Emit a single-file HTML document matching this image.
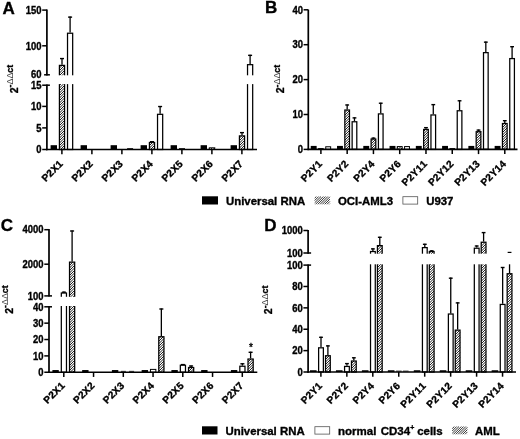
<!DOCTYPE html>
<html><head><meta charset="utf-8"><title>Figure</title>
<style>
html,body{margin:0;padding:0;background:#fff;}
svg{display:block;font-family:"Liberation Sans", Arial, sans-serif;fill:#000;}
text{stroke:#000;stroke-width:0.35px;font-kerning:none;}
</style></head>
<body>
<svg width="520" height="439" viewBox="0 0 520 439">
<defs>
<filter id="bl" x="-20%" y="-5%" width="140%" height="110%"><feGaussianBlur stdDeviation="0.25"/></filter>
</defs>
<rect width="520" height="439" fill="#fff"/>
<text x="2.60" y="13.90" font-size="17" text-anchor="start" font-weight="bold" >A</text>
<text transform="translate(17.70,93.30) rotate(-90)" font-weight="bold"><tspan font-size="10.5">2</tspan><tspan font-size="8.9" dy="-4.4">-</tspan><tspan font-size="8.9" font-weight="normal" stroke="none" fill="#444">ΔΔ</tspan><tspan font-size="8.9">ct</tspan></text>
<rect x="50.60" y="145.19" width="6.40" height="4.31" fill="#000"/>
<line x1="62.00" y1="64.76" x2="62.00" y2="57.97" stroke="#000" stroke-width="1.3"/>
<line x1="60.00" y1="58.57" x2="64.00" y2="58.57" stroke="#000" stroke-width="1.4"/>
<rect x="59.42" y="65.38" width="5.15" height="84.12" fill="#fff"/>
<path d="M59.42 65.58L59.62 65.38M59.42 68.08L62.12 65.38M59.42 70.58L64.58 65.42M59.42 73.08L64.58 67.92M59.42 75.58L64.58 70.42M59.42 78.08L64.58 72.92M59.42 80.58L64.58 75.42M59.42 83.08L64.58 77.92M59.42 85.58L64.58 80.42M59.42 88.08L64.58 82.92M59.42 90.58L64.58 85.42M59.42 93.08L64.58 87.92M59.42 95.58L64.58 90.42M59.42 98.08L64.58 92.92M59.42 100.58L64.58 95.42M59.42 103.08L64.58 97.92M59.42 105.58L64.58 100.42M59.42 108.08L64.58 102.92M59.42 110.58L64.58 105.42M59.42 113.08L64.58 107.92M59.42 115.58L64.58 110.42M59.42 118.08L64.58 112.92M59.42 120.58L64.58 115.42M59.42 123.08L64.58 117.92M59.42 125.58L64.58 120.42M59.42 128.07L64.58 122.92M59.42 130.57L64.58 125.42M59.42 133.07L64.58 127.92M59.42 135.57L64.58 130.43M59.42 138.07L64.58 132.93M59.42 140.57L64.58 135.43M59.42 143.07L64.58 137.93M59.42 145.57L64.58 140.43M59.42 148.07L64.58 142.93M60.50 149.50L64.58 145.43M63.00 149.50L64.58 147.93" stroke="#000" stroke-width="0.9" fill="none" filter="url(#bl)"/>
<rect x="59.42" y="65.38" width="5.15" height="84.12" fill="none" stroke="#000" stroke-width="1.25"/>
<line x1="70.10" y1="32.60" x2="70.10" y2="16.53" stroke="#000" stroke-width="1.3"/>
<line x1="68.10" y1="17.13" x2="72.10" y2="17.13" stroke="#000" stroke-width="1.4"/>
<rect x="67.52" y="33.23" width="5.15" height="116.27" fill="#fff"/>
<rect x="67.52" y="33.23" width="5.15" height="116.27" fill="none" stroke="#000" stroke-width="1.25"/>
<rect x="80.60" y="145.19" width="6.40" height="4.31" fill="#000"/>
<rect x="110.60" y="145.19" width="6.40" height="4.31" fill="#000"/>
<line x1="127.10" y1="148.60" x2="133.10" y2="148.60" stroke="#000" stroke-width="0.9"/>
<rect x="140.60" y="145.19" width="6.40" height="4.31" fill="#000"/>
<line x1="152.00" y1="141.82" x2="152.00" y2="141.09" stroke="#000" stroke-width="1.3"/>
<line x1="150.00" y1="141.69" x2="154.00" y2="141.69" stroke="#000" stroke-width="1.4"/>
<rect x="149.43" y="142.45" width="5.15" height="7.05" fill="#fff"/>
<path d="M149.43 143.07L150.05 142.45M149.43 145.57L152.55 142.45M149.43 148.07L154.58 142.92M150.50 149.50L154.58 145.42M153.00 149.50L154.58 147.92" stroke="#000" stroke-width="0.9" fill="none" filter="url(#bl)"/>
<rect x="149.43" y="142.45" width="5.15" height="7.05" fill="none" stroke="#000" stroke-width="1.25"/>
<line x1="160.10" y1="113.70" x2="160.10" y2="105.94" stroke="#000" stroke-width="1.3"/>
<line x1="158.10" y1="106.54" x2="162.10" y2="106.54" stroke="#000" stroke-width="1.4"/>
<rect x="157.53" y="114.32" width="5.15" height="35.18" fill="#fff"/>
<rect x="157.53" y="114.32" width="5.15" height="35.18" fill="none" stroke="#000" stroke-width="1.25"/>
<rect x="170.60" y="145.19" width="6.40" height="4.31" fill="#000"/>
<line x1="179.00" y1="148.60" x2="185.00" y2="148.60" stroke="#000" stroke-width="0.9"/>
<rect x="200.60" y="145.19" width="6.40" height="4.31" fill="#000"/>
<rect x="209.30" y="147.84" width="5.40" height="1.66" fill="#fff"/>
<path d="M209.30 148.20L209.66 147.84M210.50 149.50L212.16 147.84M213.00 149.50L214.66 147.84" stroke="#000" stroke-width="0.9" fill="none" filter="url(#bl)"/>
<rect x="209.30" y="147.84" width="5.40" height="1.66" fill="none" stroke="#000" stroke-width="1.0"/>
<rect x="230.60" y="145.19" width="6.40" height="4.31" fill="#000"/>
<line x1="242.00" y1="135.27" x2="242.00" y2="132.03" stroke="#000" stroke-width="1.3"/>
<line x1="240.00" y1="132.63" x2="244.00" y2="132.63" stroke="#000" stroke-width="1.4"/>
<rect x="239.43" y="135.89" width="5.15" height="13.61" fill="#fff"/>
<path d="M239.43 138.07L241.61 135.89M239.43 140.57L244.11 135.89M239.43 143.07L244.58 137.92M239.43 145.57L244.58 140.42M239.43 148.07L244.58 142.92M240.50 149.50L244.58 145.42M243.00 149.50L244.58 147.92" stroke="#000" stroke-width="0.9" fill="none" filter="url(#bl)"/>
<rect x="239.43" y="135.89" width="5.15" height="13.61" fill="none" stroke="#000" stroke-width="1.25"/>
<line x1="250.10" y1="64.04" x2="250.10" y2="54.75" stroke="#000" stroke-width="1.3"/>
<line x1="248.10" y1="55.35" x2="252.10" y2="55.35" stroke="#000" stroke-width="1.4"/>
<rect x="247.53" y="64.67" width="5.15" height="84.83" fill="#fff"/>
<rect x="247.53" y="64.67" width="5.15" height="84.83" fill="none" stroke="#000" stroke-width="1.25"/>
<rect x="50.5" y="75.3" width="210" height="8.8" fill="#fff"/>
<line x1="46.90" y1="9.40" x2="46.90" y2="75.50" stroke="#000" stroke-width="1.7"/>
<line x1="46.90" y1="84.50" x2="46.90" y2="150.25" stroke="#000" stroke-width="1.7"/>
<line x1="46.15" y1="149.50" x2="257.00" y2="149.50" stroke="#000" stroke-width="1.7"/>
<line x1="42.20" y1="10.10" x2="46.90" y2="10.10" stroke="#000" stroke-width="1.5"/>
<text transform="translate(41.50,13.80) scale(0.92,1)" font-size="10.3" text-anchor="end" font-weight="bold" stroke-width="0.2">150</text>
<line x1="42.20" y1="45.80" x2="46.90" y2="45.80" stroke="#000" stroke-width="1.5"/>
<text transform="translate(41.50,49.50) scale(0.92,1)" font-size="10.3" text-anchor="end" font-weight="bold" stroke-width="0.2">100</text>
<line x1="44.10" y1="74.80" x2="49.90" y2="74.80" stroke="#000" stroke-width="1.5"/>
<text transform="translate(41.50,78.00) scale(0.92,1)" font-size="10.3" text-anchor="end" font-weight="bold" stroke-width="0.2">60</text>
<line x1="42.20" y1="85.20" x2="49.90" y2="85.20" stroke="#000" stroke-width="1.5"/>
<text transform="translate(41.50,88.90) scale(0.92,1)" font-size="10.3" text-anchor="end" font-weight="bold" stroke-width="0.2">15</text>
<line x1="42.20" y1="106.40" x2="46.90" y2="106.40" stroke="#000" stroke-width="1.5"/>
<text transform="translate(41.50,110.10) scale(0.92,1)" font-size="10.3" text-anchor="end" font-weight="bold" stroke-width="0.2">10</text>
<line x1="42.20" y1="127.90" x2="46.90" y2="127.90" stroke="#000" stroke-width="1.5"/>
<text transform="translate(41.50,131.60) scale(0.92,1)" font-size="10.3" text-anchor="end" font-weight="bold" stroke-width="0.2">5</text>
<line x1="42.20" y1="149.50" x2="46.90" y2="149.50" stroke="#000" stroke-width="1.5"/>
<text transform="translate(41.50,153.20) scale(0.92,1)" font-size="10.3" text-anchor="end" font-weight="bold" stroke-width="0.2">0</text>
<line x1="61.90" y1="149.50" x2="61.90" y2="154.20" stroke="#000" stroke-width="1.5"/>
<text transform="translate(63.70,164.30) rotate(-45)" font-size="10" text-anchor="end" font-weight="bold" letter-spacing="0.25" stroke-width="0.2">P2X1</text>
<line x1="91.90" y1="149.50" x2="91.90" y2="154.20" stroke="#000" stroke-width="1.5"/>
<text transform="translate(93.70,164.30) rotate(-45)" font-size="10" text-anchor="end" font-weight="bold" letter-spacing="0.25" stroke-width="0.2">P2X2</text>
<line x1="121.90" y1="149.50" x2="121.90" y2="154.20" stroke="#000" stroke-width="1.5"/>
<text transform="translate(123.70,164.30) rotate(-45)" font-size="10" text-anchor="end" font-weight="bold" letter-spacing="0.25" stroke-width="0.2">P2X3</text>
<line x1="151.90" y1="149.50" x2="151.90" y2="154.20" stroke="#000" stroke-width="1.5"/>
<text transform="translate(153.70,164.30) rotate(-45)" font-size="10" text-anchor="end" font-weight="bold" letter-spacing="0.25" stroke-width="0.2">P2X4</text>
<line x1="181.90" y1="149.50" x2="181.90" y2="154.20" stroke="#000" stroke-width="1.5"/>
<text transform="translate(183.70,164.30) rotate(-45)" font-size="10" text-anchor="end" font-weight="bold" letter-spacing="0.25" stroke-width="0.2">P2X5</text>
<line x1="211.90" y1="149.50" x2="211.90" y2="154.20" stroke="#000" stroke-width="1.5"/>
<text transform="translate(213.70,164.30) rotate(-45)" font-size="10" text-anchor="end" font-weight="bold" letter-spacing="0.25" stroke-width="0.2">P2X6</text>
<line x1="241.90" y1="149.50" x2="241.90" y2="154.20" stroke="#000" stroke-width="1.5"/>
<text transform="translate(243.70,164.30) rotate(-45)" font-size="10" text-anchor="end" font-weight="bold" letter-spacing="0.25" stroke-width="0.2">P2X7</text>
<text x="265.00" y="13.20" font-size="17" text-anchor="start" font-weight="bold" >B</text>
<text transform="translate(284.30,93.30) rotate(-90)" font-weight="bold"><tspan font-size="10.5">2</tspan><tspan font-size="8.9" dy="-4.4">-</tspan><tspan font-size="8.9" font-weight="normal" stroke="none" fill="#444">ΔΔ</tspan><tspan font-size="8.9">ct</tspan></text>
<rect x="310.75" y="145.91" width="5.90" height="3.49" fill="#000"/>
<line x1="318.10" y1="148.50" x2="323.70" y2="148.50" stroke="#000" stroke-width="0.9"/>
<rect x="325.75" y="146.76" width="4.90" height="2.64" fill="#fff"/>
<rect x="325.75" y="146.76" width="4.90" height="2.64" fill="none" stroke="#000" stroke-width="1.0"/>
<rect x="337.02" y="145.91" width="5.90" height="3.49" fill="#000"/>
<line x1="347.17" y1="109.40" x2="347.17" y2="104.38" stroke="#000" stroke-width="1.3"/>
<line x1="345.27" y1="104.98" x2="349.07" y2="104.98" stroke="#000" stroke-width="1.4"/>
<rect x="344.84" y="110.03" width="4.65" height="39.37" fill="#fff"/>
<path d="M344.84 110.16L344.97 110.03M344.84 112.66L347.47 110.03M344.84 115.16L349.49 110.51M344.84 117.66L349.49 113.01M344.84 120.16L349.49 115.51M344.84 122.66L349.49 118.01M344.84 125.16L349.49 120.51M344.84 127.66L349.49 123.01M344.84 130.16L349.49 125.51M344.84 132.66L349.49 128.01M344.84 135.16L349.49 130.51M344.84 137.66L349.49 133.01M344.84 140.16L349.49 135.51M344.84 142.66L349.49 138.01M344.84 145.16L349.49 140.51M344.84 147.66L349.49 143.01M345.60 149.40L349.49 145.51M348.10 149.40L349.49 148.01" stroke="#000" stroke-width="0.9" fill="none" filter="url(#bl)"/>
<rect x="344.84" y="110.03" width="4.65" height="39.37" fill="none" stroke="#000" stroke-width="1.25"/>
<line x1="354.47" y1="121.13" x2="354.47" y2="117.29" stroke="#000" stroke-width="1.3"/>
<line x1="352.57" y1="117.89" x2="356.37" y2="117.89" stroke="#000" stroke-width="1.4"/>
<rect x="352.14" y="121.76" width="4.65" height="27.64" fill="#fff"/>
<rect x="352.14" y="121.76" width="4.65" height="27.64" fill="none" stroke="#000" stroke-width="1.25"/>
<rect x="363.29" y="145.91" width="5.90" height="3.49" fill="#000"/>
<line x1="373.44" y1="138.41" x2="373.44" y2="137.53" stroke="#000" stroke-width="1.3"/>
<line x1="371.54" y1="138.13" x2="375.34" y2="138.13" stroke="#000" stroke-width="1.4"/>
<rect x="371.12" y="139.03" width="4.65" height="10.37" fill="#fff"/>
<path d="M371.12 141.38L373.47 139.03M371.12 143.88L375.76 139.24M371.12 146.38L375.76 141.74M371.12 148.88L375.76 144.24M373.10 149.40L375.76 146.74M375.60 149.40L375.76 149.24" stroke="#000" stroke-width="0.9" fill="none" filter="url(#bl)"/>
<rect x="371.12" y="139.03" width="4.65" height="10.37" fill="none" stroke="#000" stroke-width="1.25"/>
<line x1="380.74" y1="113.28" x2="380.74" y2="102.63" stroke="#000" stroke-width="1.3"/>
<line x1="378.84" y1="103.23" x2="382.64" y2="103.23" stroke="#000" stroke-width="1.4"/>
<rect x="378.42" y="113.90" width="4.65" height="35.50" fill="#fff"/>
<rect x="378.42" y="113.90" width="4.65" height="35.50" fill="none" stroke="#000" stroke-width="1.25"/>
<rect x="389.56" y="145.91" width="5.90" height="3.49" fill="#000"/>
<rect x="397.26" y="146.58" width="4.90" height="2.82" fill="#fff"/>
<path d="M397.26 147.74L398.42 146.58M398.10 149.40L400.92 146.58M400.60 149.40L402.16 147.84" stroke="#000" stroke-width="0.9" fill="none" filter="url(#bl)"/>
<rect x="397.26" y="146.58" width="4.90" height="2.82" fill="none" stroke="#000" stroke-width="1.0"/>
<rect x="404.56" y="146.58" width="4.90" height="2.82" fill="#fff"/>
<rect x="404.56" y="146.58" width="4.90" height="2.82" fill="none" stroke="#000" stroke-width="1.0"/>
<rect x="415.83" y="145.91" width="5.90" height="3.49" fill="#000"/>
<line x1="425.98" y1="128.81" x2="425.98" y2="127.06" stroke="#000" stroke-width="1.3"/>
<line x1="424.08" y1="127.66" x2="427.88" y2="127.66" stroke="#000" stroke-width="1.4"/>
<rect x="423.65" y="129.43" width="4.65" height="19.97" fill="#fff"/>
<path d="M423.65 131.35L425.57 129.43M423.65 133.85L428.07 129.43M423.65 136.35L428.30 131.70M423.65 138.85L428.30 134.20M423.65 141.35L428.30 136.70M423.65 143.85L428.30 139.20M423.65 146.35L428.30 141.70M423.65 148.85L428.30 144.20M425.60 149.40L428.30 146.70M428.10 149.40L428.30 149.20" stroke="#000" stroke-width="0.9" fill="none" filter="url(#bl)"/>
<rect x="423.65" y="129.43" width="4.65" height="19.97" fill="none" stroke="#000" stroke-width="1.25"/>
<line x1="433.28" y1="114.33" x2="433.28" y2="104.03" stroke="#000" stroke-width="1.3"/>
<line x1="431.38" y1="104.63" x2="435.18" y2="104.63" stroke="#000" stroke-width="1.4"/>
<rect x="430.95" y="114.95" width="4.65" height="34.45" fill="#fff"/>
<rect x="430.95" y="114.95" width="4.65" height="34.45" fill="none" stroke="#000" stroke-width="1.25"/>
<rect x="442.10" y="145.91" width="5.90" height="3.49" fill="#000"/>
<line x1="449.45" y1="148.50" x2="455.05" y2="148.50" stroke="#000" stroke-width="0.9"/>
<line x1="459.55" y1="110.14" x2="459.55" y2="100.19" stroke="#000" stroke-width="1.3"/>
<line x1="457.65" y1="100.79" x2="461.45" y2="100.79" stroke="#000" stroke-width="1.4"/>
<rect x="457.23" y="110.76" width="4.65" height="38.64" fill="#fff"/>
<rect x="457.23" y="110.76" width="4.65" height="38.64" fill="none" stroke="#000" stroke-width="1.25"/>
<rect x="468.37" y="145.91" width="5.90" height="3.49" fill="#000"/>
<line x1="478.52" y1="131.08" x2="478.52" y2="129.51" stroke="#000" stroke-width="1.3"/>
<line x1="476.62" y1="130.11" x2="480.42" y2="130.11" stroke="#000" stroke-width="1.4"/>
<rect x="476.19" y="131.70" width="4.65" height="17.70" fill="#fff"/>
<path d="M476.19 133.81L478.30 131.70M476.19 136.31L480.80 131.70M476.19 138.81L480.84 134.16M476.19 141.31L480.84 136.66M476.19 143.81L480.84 139.16M476.19 146.31L480.84 141.66M476.19 148.81L480.84 144.16M478.10 149.40L480.84 146.66M480.60 149.40L480.84 149.16" stroke="#000" stroke-width="0.9" fill="none" filter="url(#bl)"/>
<rect x="476.19" y="131.70" width="4.65" height="17.70" fill="none" stroke="#000" stroke-width="1.25"/>
<line x1="485.82" y1="52.03" x2="485.82" y2="41.56" stroke="#000" stroke-width="1.3"/>
<line x1="483.92" y1="42.16" x2="487.72" y2="42.16" stroke="#000" stroke-width="1.4"/>
<rect x="483.50" y="52.65" width="4.65" height="96.75" fill="#fff"/>
<rect x="483.50" y="52.65" width="4.65" height="96.75" fill="none" stroke="#000" stroke-width="1.25"/>
<rect x="494.64" y="145.91" width="5.90" height="3.49" fill="#000"/>
<line x1="504.79" y1="122.88" x2="504.79" y2="120.08" stroke="#000" stroke-width="1.3"/>
<line x1="502.89" y1="120.68" x2="506.69" y2="120.68" stroke="#000" stroke-width="1.4"/>
<rect x="502.46" y="123.50" width="4.65" height="25.90" fill="#fff"/>
<path d="M502.46 125.04L504.00 123.50M502.46 127.54L506.50 123.50M502.46 130.04L507.11 125.39M502.46 132.54L507.11 127.89M502.46 135.04L507.11 130.39M502.46 137.54L507.11 132.89M502.46 140.04L507.11 135.39M502.46 142.54L507.11 137.89M502.46 145.04L507.11 140.39M502.46 147.54L507.11 142.89M503.10 149.40L507.11 145.39M505.60 149.40L507.11 147.89" stroke="#000" stroke-width="0.9" fill="none" filter="url(#bl)"/>
<rect x="502.46" y="123.50" width="4.65" height="25.90" fill="none" stroke="#000" stroke-width="1.25"/>
<line x1="512.09" y1="57.96" x2="512.09" y2="46.10" stroke="#000" stroke-width="1.3"/>
<line x1="510.19" y1="46.70" x2="513.99" y2="46.70" stroke="#000" stroke-width="1.4"/>
<rect x="509.76" y="58.59" width="4.65" height="90.81" fill="#fff"/>
<rect x="509.76" y="58.59" width="4.65" height="90.81" fill="none" stroke="#000" stroke-width="1.25"/>
<line x1="308.30" y1="9.60" x2="308.30" y2="150.15" stroke="#000" stroke-width="1.7"/>
<line x1="307.55" y1="149.40" x2="517.50" y2="149.40" stroke="#000" stroke-width="1.7"/>
<line x1="303.60" y1="9.80" x2="308.30" y2="9.80" stroke="#000" stroke-width="1.5"/>
<text transform="translate(302.90,13.50) scale(0.92,1)" font-size="10.3" text-anchor="end" font-weight="bold" stroke-width="0.2">40</text>
<line x1="303.60" y1="44.70" x2="308.30" y2="44.70" stroke="#000" stroke-width="1.5"/>
<text transform="translate(302.90,48.40) scale(0.92,1)" font-size="10.3" text-anchor="end" font-weight="bold" stroke-width="0.2">30</text>
<line x1="303.60" y1="79.60" x2="308.30" y2="79.60" stroke="#000" stroke-width="1.5"/>
<text transform="translate(302.90,83.30) scale(0.92,1)" font-size="10.3" text-anchor="end" font-weight="bold" stroke-width="0.2">20</text>
<line x1="303.60" y1="114.50" x2="308.30" y2="114.50" stroke="#000" stroke-width="1.5"/>
<text transform="translate(302.90,118.20) scale(0.92,1)" font-size="10.3" text-anchor="end" font-weight="bold" stroke-width="0.2">10</text>
<line x1="303.60" y1="149.40" x2="308.30" y2="149.40" stroke="#000" stroke-width="1.5"/>
<text transform="translate(302.90,153.10) scale(0.92,1)" font-size="10.3" text-anchor="end" font-weight="bold" stroke-width="0.2">0</text>
<line x1="320.90" y1="149.40" x2="320.90" y2="154.10" stroke="#000" stroke-width="1.5"/>
<text transform="translate(322.90,164.50) rotate(-45)" font-size="10" text-anchor="end" font-weight="bold" letter-spacing="0.25" stroke-width="0.2">P2Y1</text>
<line x1="347.17" y1="149.40" x2="347.17" y2="154.10" stroke="#000" stroke-width="1.5"/>
<text transform="translate(349.17,164.50) rotate(-45)" font-size="10" text-anchor="end" font-weight="bold" letter-spacing="0.25" stroke-width="0.2">P2Y2</text>
<line x1="373.44" y1="149.40" x2="373.44" y2="154.10" stroke="#000" stroke-width="1.5"/>
<text transform="translate(375.44,164.50) rotate(-45)" font-size="10" text-anchor="end" font-weight="bold" letter-spacing="0.25" stroke-width="0.2">P2Y4</text>
<line x1="399.71" y1="149.40" x2="399.71" y2="154.10" stroke="#000" stroke-width="1.5"/>
<text transform="translate(401.71,164.50) rotate(-45)" font-size="10" text-anchor="end" font-weight="bold" letter-spacing="0.25" stroke-width="0.2">P2Y6</text>
<line x1="425.98" y1="149.40" x2="425.98" y2="154.10" stroke="#000" stroke-width="1.5"/>
<text transform="translate(427.98,164.50) rotate(-45)" font-size="10" text-anchor="end" font-weight="bold" letter-spacing="0.25" stroke-width="0.2">P2Y11</text>
<line x1="452.25" y1="149.40" x2="452.25" y2="154.10" stroke="#000" stroke-width="1.5"/>
<text transform="translate(454.25,164.50) rotate(-45)" font-size="10" text-anchor="end" font-weight="bold" letter-spacing="0.25" stroke-width="0.2">P2Y12</text>
<line x1="478.52" y1="149.40" x2="478.52" y2="154.10" stroke="#000" stroke-width="1.5"/>
<text transform="translate(480.52,164.50) rotate(-45)" font-size="10" text-anchor="end" font-weight="bold" letter-spacing="0.25" stroke-width="0.2">P2Y13</text>
<line x1="504.79" y1="149.40" x2="504.79" y2="154.10" stroke="#000" stroke-width="1.5"/>
<text transform="translate(506.79,164.50) rotate(-45)" font-size="10" text-anchor="end" font-weight="bold" letter-spacing="0.25" stroke-width="0.2">P2Y14</text>
<text x="0.70" y="230.80" font-size="17" text-anchor="start" font-weight="bold" >C</text>
<text transform="translate(12.50,313.80) rotate(-90)" font-weight="bold"><tspan font-size="10.5">2</tspan><tspan font-size="8.9" dy="-4.4">-</tspan><tspan font-size="8.9" font-weight="normal" stroke="none" fill="#444">ΔΔ</tspan><tspan font-size="8.9">ct</tspan></text>
<rect x="52.40" y="370.05" width="6.40" height="2.20" fill="#000"/>
<line x1="63.90" y1="292.40" x2="63.90" y2="291.60" stroke="#000" stroke-width="1.3"/>
<line x1="61.90" y1="292.20" x2="65.90" y2="292.20" stroke="#000" stroke-width="1.4"/>
<rect x="61.32" y="293.02" width="5.15" height="79.23" fill="#fff"/>
<rect x="61.32" y="293.02" width="5.15" height="79.23" fill="none" stroke="#000" stroke-width="1.25"/>
<line x1="72.10" y1="261.50" x2="72.10" y2="230.40" stroke="#000" stroke-width="1.3"/>
<line x1="70.10" y1="231.00" x2="74.10" y2="231.00" stroke="#000" stroke-width="1.4"/>
<rect x="69.52" y="262.12" width="5.15" height="110.12" fill="#fff"/>
<path d="M69.52 262.98L70.38 262.12M69.52 265.48L72.88 262.12M69.52 267.98L74.67 262.82M69.52 270.48L74.67 265.32M69.52 272.98L74.67 267.82M69.52 275.48L74.67 270.32M69.52 277.98L74.67 272.82M69.52 280.48L74.67 275.32M69.52 282.98L74.67 277.82M69.52 285.48L74.67 280.32M69.52 287.98L74.67 282.82M69.52 290.48L74.67 285.32M69.52 292.98L74.67 287.82M69.52 295.48L74.67 290.32M69.52 297.98L74.67 292.82M69.52 300.48L74.67 295.32M69.52 302.98L74.67 297.82M69.52 305.48L74.67 300.32M69.52 307.98L74.67 302.82M69.52 310.48L74.67 305.32M69.52 312.98L74.67 307.82M69.52 315.48L74.67 310.32M69.52 317.98L74.67 312.82M69.52 320.48L74.67 315.32M69.52 322.98L74.67 317.82M69.52 325.48L74.67 320.32M69.52 327.98L74.67 322.82M69.52 330.48L74.67 325.32M69.52 332.98L74.67 327.82M69.52 335.48L74.67 330.32M69.52 337.98L74.67 332.82M69.52 340.48L74.67 335.32M69.52 342.98L74.67 337.82M69.52 345.48L74.67 340.32M69.52 347.98L74.67 342.82M69.52 350.48L74.67 345.32M69.52 352.98L74.67 347.82M69.52 355.48L74.67 350.32M69.52 357.98L74.67 352.82M69.52 360.48L74.67 355.32M69.52 362.98L74.67 357.82M69.52 365.48L74.67 360.32M69.52 367.98L74.67 362.82M69.52 370.48L74.67 365.32M70.25 372.25L74.67 367.82M72.75 372.25L74.67 370.32" stroke="#000" stroke-width="0.9" fill="none" filter="url(#bl)"/>
<rect x="69.52" y="262.12" width="5.15" height="110.12" fill="none" stroke="#000" stroke-width="1.25"/>
<rect x="82.15" y="370.05" width="6.40" height="2.20" fill="#000"/>
<rect x="111.90" y="370.05" width="6.40" height="2.20" fill="#000"/>
<line x1="120.90" y1="371.35" x2="125.90" y2="371.35" stroke="#000" stroke-width="0.8"/>
<line x1="129.10" y1="371.35" x2="134.10" y2="371.35" stroke="#000" stroke-width="0.8"/>
<rect x="141.65" y="370.05" width="6.40" height="2.20" fill="#000"/>
<rect x="150.45" y="369.40" width="5.40" height="2.85" fill="#fff"/>
<rect x="150.45" y="369.40" width="5.40" height="2.85" fill="none" stroke="#000" stroke-width="1.0"/>
<line x1="161.35" y1="336.10" x2="161.35" y2="308.40" stroke="#000" stroke-width="1.3"/>
<line x1="159.35" y1="309.00" x2="163.35" y2="309.00" stroke="#000" stroke-width="1.4"/>
<rect x="158.78" y="336.73" width="5.15" height="35.52" fill="#fff"/>
<path d="M158.78 338.72L160.77 336.73M158.78 341.22L163.27 336.73M158.78 343.72L163.93 338.57M158.78 346.22L163.93 341.07M158.78 348.72L163.93 343.57M158.78 351.22L163.93 346.07M158.78 353.72L163.93 348.57M158.78 356.22L163.93 351.07M158.78 358.72L163.93 353.57M158.78 361.22L163.93 356.07M158.78 363.72L163.93 358.57M158.78 366.22L163.93 361.07M158.78 368.72L163.93 363.57M158.78 371.22L163.93 366.07M160.25 372.25L163.93 368.57M162.75 372.25L163.93 371.07" stroke="#000" stroke-width="0.9" fill="none" filter="url(#bl)"/>
<rect x="158.78" y="336.73" width="5.15" height="35.52" fill="none" stroke="#000" stroke-width="1.25"/>
<rect x="171.40" y="370.05" width="6.40" height="2.20" fill="#000"/>
<line x1="182.90" y1="364.60" x2="182.90" y2="364.00" stroke="#000" stroke-width="1.3"/>
<line x1="180.90" y1="364.60" x2="184.90" y2="364.60" stroke="#000" stroke-width="1.4"/>
<rect x="180.33" y="365.23" width="5.15" height="7.02" fill="#fff"/>
<rect x="180.33" y="365.23" width="5.15" height="7.02" fill="none" stroke="#000" stroke-width="1.25"/>
<line x1="191.10" y1="366.90" x2="191.10" y2="365.40" stroke="#000" stroke-width="1.3"/>
<line x1="189.10" y1="366.00" x2="193.10" y2="366.00" stroke="#000" stroke-width="1.4"/>
<rect x="188.53" y="367.52" width="5.15" height="4.73" fill="#fff"/>
<path d="M188.53 368.97L189.98 367.52M188.53 371.47L192.48 367.52M190.25 372.25L193.68 368.82M192.75 372.25L193.68 371.32" stroke="#000" stroke-width="0.9" fill="none" filter="url(#bl)"/>
<rect x="188.53" y="367.52" width="5.15" height="4.73" fill="none" stroke="#000" stroke-width="1.25"/>
<rect x="201.15" y="370.05" width="6.40" height="2.20" fill="#000"/>
<rect x="230.90" y="370.05" width="6.40" height="2.20" fill="#000"/>
<line x1="242.40" y1="365.60" x2="242.40" y2="363.20" stroke="#000" stroke-width="1.3"/>
<line x1="240.40" y1="363.80" x2="244.40" y2="363.80" stroke="#000" stroke-width="1.4"/>
<rect x="239.83" y="366.23" width="5.15" height="6.02" fill="#fff"/>
<rect x="239.83" y="366.23" width="5.15" height="6.02" fill="none" stroke="#000" stroke-width="1.25"/>
<line x1="250.60" y1="358.40" x2="250.60" y2="351.70" stroke="#000" stroke-width="1.3"/>
<line x1="248.60" y1="352.30" x2="252.60" y2="352.30" stroke="#000" stroke-width="1.4"/>
<rect x="248.03" y="359.02" width="5.15" height="13.23" fill="#fff"/>
<path d="M248.03 359.47L248.48 359.02M248.03 361.97L250.98 359.02M248.03 364.47L253.18 359.32M248.03 366.97L253.18 361.82M248.03 369.47L253.18 364.32M248.03 371.97L253.18 366.82M250.25 372.25L253.18 369.32M252.75 372.25L253.18 371.82" stroke="#000" stroke-width="0.9" fill="none" filter="url(#bl)"/>
<rect x="248.03" y="359.02" width="5.15" height="13.23" fill="none" stroke="#000" stroke-width="1.25"/>
<rect x="52.5" y="296.8" width="208" height="9.2" fill="#fff"/>
<line x1="49.00" y1="229.00" x2="49.00" y2="296.60" stroke="#000" stroke-width="1.7"/>
<line x1="49.00" y1="306.10" x2="49.00" y2="373.00" stroke="#000" stroke-width="1.7"/>
<line x1="48.25" y1="372.25" x2="257.30" y2="372.25" stroke="#000" stroke-width="1.7"/>
<line x1="44.30" y1="229.70" x2="49.00" y2="229.70" stroke="#000" stroke-width="1.5"/>
<text transform="translate(43.60,233.40) scale(0.92,1)" font-size="10.3" text-anchor="end" font-weight="bold" stroke-width="0.2">4000</text>
<line x1="44.30" y1="264.20" x2="49.00" y2="264.20" stroke="#000" stroke-width="1.5"/>
<text transform="translate(43.60,267.90) scale(0.92,1)" font-size="10.3" text-anchor="end" font-weight="bold" stroke-width="0.2">2000</text>
<line x1="44.30" y1="295.90" x2="52.00" y2="295.90" stroke="#000" stroke-width="1.5"/>
<text transform="translate(43.60,299.60) scale(0.92,1)" font-size="10.3" text-anchor="end" font-weight="bold" stroke-width="0.2">100</text>
<line x1="44.30" y1="306.80" x2="52.00" y2="306.80" stroke="#000" stroke-width="1.5"/>
<text transform="translate(43.60,310.50) scale(0.92,1)" font-size="10.3" text-anchor="end" font-weight="bold" stroke-width="0.2">40</text>
<line x1="44.30" y1="323.16" x2="49.00" y2="323.16" stroke="#000" stroke-width="1.5"/>
<text transform="translate(43.60,326.86) scale(0.92,1)" font-size="10.3" text-anchor="end" font-weight="bold" stroke-width="0.2">30</text>
<line x1="44.30" y1="339.52" x2="49.00" y2="339.52" stroke="#000" stroke-width="1.5"/>
<text transform="translate(43.60,343.22) scale(0.92,1)" font-size="10.3" text-anchor="end" font-weight="bold" stroke-width="0.2">20</text>
<line x1="44.30" y1="355.89" x2="49.00" y2="355.89" stroke="#000" stroke-width="1.5"/>
<text transform="translate(43.60,359.59) scale(0.92,1)" font-size="10.3" text-anchor="end" font-weight="bold" stroke-width="0.2">10</text>
<line x1="44.30" y1="372.25" x2="49.00" y2="372.25" stroke="#000" stroke-width="1.5"/>
<text transform="translate(43.60,375.95) scale(0.92,1)" font-size="10.3" text-anchor="end" font-weight="bold" stroke-width="0.2">0</text>
<line x1="63.80" y1="372.25" x2="63.80" y2="376.95" stroke="#000" stroke-width="1.5"/>
<text transform="translate(65.60,386.25) rotate(-45)" font-size="10" text-anchor="end" font-weight="bold" letter-spacing="0.25" stroke-width="0.2">P2X1</text>
<line x1="93.55" y1="372.25" x2="93.55" y2="376.95" stroke="#000" stroke-width="1.5"/>
<text transform="translate(95.35,386.25) rotate(-45)" font-size="10" text-anchor="end" font-weight="bold" letter-spacing="0.25" stroke-width="0.2">P2X2</text>
<line x1="123.30" y1="372.25" x2="123.30" y2="376.95" stroke="#000" stroke-width="1.5"/>
<text transform="translate(125.10,386.25) rotate(-45)" font-size="10" text-anchor="end" font-weight="bold" letter-spacing="0.25" stroke-width="0.2">P2X3</text>
<line x1="153.05" y1="372.25" x2="153.05" y2="376.95" stroke="#000" stroke-width="1.5"/>
<text transform="translate(154.85,386.25) rotate(-45)" font-size="10" text-anchor="end" font-weight="bold" letter-spacing="0.25" stroke-width="0.2">P2X4</text>
<line x1="182.80" y1="372.25" x2="182.80" y2="376.95" stroke="#000" stroke-width="1.5"/>
<text transform="translate(184.60,386.25) rotate(-45)" font-size="10" text-anchor="end" font-weight="bold" letter-spacing="0.25" stroke-width="0.2">P2X5</text>
<line x1="212.55" y1="372.25" x2="212.55" y2="376.95" stroke="#000" stroke-width="1.5"/>
<text transform="translate(214.35,386.25) rotate(-45)" font-size="10" text-anchor="end" font-weight="bold" letter-spacing="0.25" stroke-width="0.2">P2X6</text>
<line x1="242.30" y1="372.25" x2="242.30" y2="376.95" stroke="#000" stroke-width="1.5"/>
<text transform="translate(244.10,386.25) rotate(-45)" font-size="10" text-anchor="end" font-weight="bold" letter-spacing="0.25" stroke-width="0.2">P2X7</text>
<text x="251.00" y="351.00" font-size="10" text-anchor="middle" font-weight="normal" >*</text>
<text x="264.20" y="231.30" font-size="17" text-anchor="start" font-weight="bold" >D</text>
<text transform="translate(272.00,314.20) rotate(-90)" font-weight="bold"><tspan font-size="10.5">2</tspan><tspan font-size="8.9" dy="-4.4">-</tspan><tspan font-size="8.9" font-weight="normal" stroke="none" fill="#444">ΔΔ</tspan><tspan font-size="8.9">ct</tspan></text>
<rect x="310.00" y="370.25" width="6.60" height="1.75" fill="#000"/>
<line x1="321.00" y1="347.20" x2="321.00" y2="336.70" stroke="#000" stroke-width="1.3"/>
<line x1="319.10" y1="337.30" x2="322.90" y2="337.30" stroke="#000" stroke-width="1.4"/>
<rect x="318.62" y="347.82" width="4.75" height="24.18" fill="#fff"/>
<rect x="318.62" y="347.82" width="4.75" height="24.18" fill="none" stroke="#000" stroke-width="1.25"/>
<line x1="327.90" y1="355.10" x2="327.90" y2="345.30" stroke="#000" stroke-width="1.3"/>
<line x1="326.00" y1="345.90" x2="329.80" y2="345.90" stroke="#000" stroke-width="1.4"/>
<rect x="325.52" y="355.73" width="4.75" height="16.27" fill="#fff"/>
<path d="M325.52 356.98L326.77 355.73M325.52 359.48L329.27 355.73M325.52 361.98L330.27 357.23M325.52 364.48L330.27 359.73M325.52 366.98L330.27 362.23M325.52 369.48L330.27 364.73M325.52 371.98L330.27 367.23M328.00 372.00L330.27 369.73" stroke="#000" stroke-width="0.9" fill="none" filter="url(#bl)"/>
<rect x="325.52" y="355.73" width="4.75" height="16.27" fill="none" stroke="#000" stroke-width="1.25"/>
<rect x="335.95" y="370.25" width="6.60" height="1.75" fill="#000"/>
<line x1="346.95" y1="365.80" x2="346.95" y2="363.00" stroke="#000" stroke-width="1.3"/>
<line x1="345.05" y1="363.60" x2="348.85" y2="363.60" stroke="#000" stroke-width="1.4"/>
<rect x="344.57" y="366.43" width="4.75" height="5.57" fill="#fff"/>
<rect x="344.57" y="366.43" width="4.75" height="5.57" fill="none" stroke="#000" stroke-width="1.25"/>
<line x1="353.85" y1="360.40" x2="353.85" y2="357.20" stroke="#000" stroke-width="1.3"/>
<line x1="351.95" y1="357.80" x2="355.75" y2="357.80" stroke="#000" stroke-width="1.4"/>
<rect x="351.47" y="361.02" width="4.75" height="10.98" fill="#fff"/>
<path d="M351.47 363.53L353.98 361.02M351.47 366.03L356.22 361.28M351.47 368.53L356.22 363.78M351.47 371.03L356.22 366.28M353.00 372.00L356.22 368.78M355.50 372.00L356.22 371.28" stroke="#000" stroke-width="0.9" fill="none" filter="url(#bl)"/>
<rect x="351.47" y="361.02" width="4.75" height="10.98" fill="none" stroke="#000" stroke-width="1.25"/>
<rect x="361.90" y="370.25" width="6.60" height="1.75" fill="#000"/>
<line x1="372.90" y1="250.90" x2="372.90" y2="248.30" stroke="#000" stroke-width="1.3"/>
<line x1="371.00" y1="248.90" x2="374.80" y2="248.90" stroke="#000" stroke-width="1.4"/>
<rect x="370.52" y="251.53" width="4.75" height="120.47" fill="#fff"/>
<rect x="370.52" y="251.53" width="4.75" height="120.47" fill="none" stroke="#000" stroke-width="1.25"/>
<line x1="379.80" y1="245.00" x2="379.80" y2="236.70" stroke="#000" stroke-width="1.3"/>
<line x1="377.90" y1="237.30" x2="381.70" y2="237.30" stroke="#000" stroke-width="1.4"/>
<rect x="377.42" y="245.62" width="4.75" height="126.38" fill="#fff"/>
<path d="M377.42 247.58L379.38 245.62M377.42 250.08L381.88 245.62M377.42 252.58L382.17 247.83M377.42 255.08L382.17 250.33M377.42 257.58L382.17 252.83M377.42 260.08L382.17 255.33M377.42 262.58L382.17 257.83M377.42 265.08L382.17 260.33M377.42 267.58L382.17 262.83M377.42 270.08L382.17 265.33M377.42 272.58L382.17 267.83M377.42 275.08L382.17 270.33M377.42 277.58L382.17 272.83M377.42 280.08L382.17 275.33M377.42 282.58L382.17 277.83M377.42 285.08L382.17 280.33M377.42 287.58L382.17 282.83M377.42 290.08L382.17 285.33M377.42 292.58L382.17 287.83M377.42 295.08L382.17 290.33M377.42 297.58L382.17 292.83M377.42 300.08L382.17 295.33M377.42 302.58L382.17 297.83M377.42 305.08L382.17 300.33M377.42 307.58L382.17 302.83M377.42 310.08L382.17 305.33M377.42 312.58L382.17 307.83M377.42 315.08L382.17 310.33M377.42 317.58L382.17 312.83M377.42 320.08L382.17 315.33M377.42 322.58L382.17 317.83M377.42 325.08L382.17 320.33M377.42 327.58L382.17 322.83M377.42 330.08L382.17 325.33M377.42 332.58L382.17 327.83M377.42 335.08L382.17 330.33M377.42 337.58L382.17 332.83M377.42 340.08L382.17 335.33M377.42 342.58L382.17 337.83M377.42 345.08L382.17 340.33M377.42 347.58L382.17 342.83M377.42 350.08L382.17 345.33M377.42 352.58L382.17 347.83M377.42 355.08L382.17 350.33M377.42 357.58L382.17 352.83M377.42 360.08L382.17 355.33M377.42 362.58L382.17 357.83M377.42 365.08L382.17 360.33M377.42 367.58L382.17 362.83M377.42 370.08L382.17 365.33M378.00 372.00L382.17 367.83M380.50 372.00L382.17 370.33" stroke="#000" stroke-width="0.9" fill="none" filter="url(#bl)"/>
<rect x="377.42" y="245.62" width="4.75" height="126.38" fill="none" stroke="#000" stroke-width="1.25"/>
<rect x="387.85" y="370.25" width="6.60" height="1.75" fill="#000"/>
<line x1="396.05" y1="371.10" x2="401.65" y2="371.10" stroke="#000" stroke-width="0.8"/>
<line x1="402.95" y1="371.10" x2="408.55" y2="371.10" stroke="#000" stroke-width="0.8"/>
<rect x="413.80" y="370.25" width="6.60" height="1.75" fill="#000"/>
<line x1="424.80" y1="247.00" x2="424.80" y2="243.70" stroke="#000" stroke-width="1.3"/>
<line x1="422.90" y1="244.30" x2="426.70" y2="244.30" stroke="#000" stroke-width="1.4"/>
<rect x="422.43" y="247.62" width="4.75" height="124.38" fill="#fff"/>
<rect x="422.43" y="247.62" width="4.75" height="124.38" fill="none" stroke="#000" stroke-width="1.25"/>
<line x1="431.70" y1="250.90" x2="431.70" y2="250.30" stroke="#000" stroke-width="1.3"/>
<line x1="429.80" y1="250.90" x2="433.60" y2="250.90" stroke="#000" stroke-width="1.4"/>
<rect x="429.32" y="251.53" width="4.75" height="120.47" fill="#fff"/>
<path d="M429.32 253.18L430.98 251.53M429.32 255.68L433.48 251.53M429.32 258.18L434.07 253.43M429.32 260.68L434.07 255.93M429.32 263.18L434.07 258.43M429.32 265.68L434.07 260.93M429.32 268.18L434.07 263.43M429.32 270.68L434.07 265.93M429.32 273.18L434.07 268.43M429.32 275.68L434.07 270.93M429.32 278.18L434.07 273.43M429.32 280.68L434.07 275.93M429.32 283.18L434.07 278.43M429.32 285.68L434.07 280.93M429.32 288.18L434.07 283.43M429.32 290.68L434.07 285.93M429.32 293.18L434.07 288.43M429.32 295.68L434.07 290.93M429.32 298.18L434.07 293.43M429.32 300.68L434.07 295.93M429.32 303.18L434.07 298.43M429.32 305.68L434.07 300.93M429.32 308.18L434.07 303.43M429.32 310.68L434.07 305.93M429.32 313.18L434.07 308.43M429.32 315.68L434.07 310.93M429.32 318.18L434.07 313.43M429.32 320.68L434.07 315.93M429.32 323.18L434.07 318.43M429.32 325.68L434.07 320.93M429.32 328.18L434.07 323.43M429.32 330.68L434.07 325.93M429.32 333.18L434.07 328.43M429.32 335.68L434.07 330.93M429.32 338.18L434.07 333.43M429.32 340.68L434.07 335.93M429.32 343.18L434.07 338.43M429.32 345.68L434.07 340.93M429.32 348.18L434.07 343.43M429.32 350.68L434.07 345.93M429.32 353.18L434.07 348.43M429.32 355.68L434.07 350.93M429.32 358.18L434.07 353.43M429.32 360.68L434.07 355.93M429.32 363.18L434.07 358.43M429.32 365.68L434.07 360.93M429.32 368.18L434.07 363.43M429.32 370.68L434.07 365.93M430.50 372.00L434.07 368.43M433.00 372.00L434.07 370.93" stroke="#000" stroke-width="0.9" fill="none" filter="url(#bl)"/>
<rect x="429.32" y="251.53" width="4.75" height="120.47" fill="none" stroke="#000" stroke-width="1.25"/>
<rect x="439.75" y="370.25" width="6.60" height="1.75" fill="#000"/>
<line x1="450.75" y1="313.40" x2="450.75" y2="277.60" stroke="#000" stroke-width="1.3"/>
<line x1="448.85" y1="278.20" x2="452.65" y2="278.20" stroke="#000" stroke-width="1.4"/>
<rect x="448.38" y="314.02" width="4.75" height="57.98" fill="#fff"/>
<rect x="448.38" y="314.02" width="4.75" height="57.98" fill="none" stroke="#000" stroke-width="1.25"/>
<line x1="457.65" y1="329.50" x2="457.65" y2="302.30" stroke="#000" stroke-width="1.3"/>
<line x1="455.75" y1="302.90" x2="459.55" y2="302.90" stroke="#000" stroke-width="1.4"/>
<rect x="455.27" y="330.12" width="4.75" height="41.88" fill="#fff"/>
<path d="M455.27 332.23L457.38 330.12M455.27 334.73L459.88 330.12M455.27 337.23L460.02 332.48M455.27 339.73L460.02 334.98M455.27 342.23L460.02 337.48M455.27 344.73L460.02 339.98M455.27 347.23L460.02 342.48M455.27 349.73L460.02 344.98M455.27 352.23L460.02 347.48M455.27 354.73L460.02 349.98M455.27 357.23L460.02 352.48M455.27 359.73L460.02 354.98M455.27 362.23L460.02 357.48M455.27 364.73L460.02 359.98M455.27 367.23L460.02 362.48M455.27 369.73L460.02 364.98M455.50 372.00L460.02 367.48M458.00 372.00L460.02 369.98" stroke="#000" stroke-width="0.9" fill="none" filter="url(#bl)"/>
<rect x="455.27" y="330.12" width="4.75" height="41.88" fill="none" stroke="#000" stroke-width="1.25"/>
<rect x="465.70" y="370.25" width="6.60" height="1.75" fill="#000"/>
<line x1="476.70" y1="247.60" x2="476.70" y2="245.40" stroke="#000" stroke-width="1.3"/>
<line x1="474.80" y1="246.00" x2="478.60" y2="246.00" stroke="#000" stroke-width="1.4"/>
<rect x="474.32" y="248.22" width="4.75" height="123.78" fill="#fff"/>
<rect x="474.32" y="248.22" width="4.75" height="123.78" fill="none" stroke="#000" stroke-width="1.25"/>
<line x1="483.60" y1="241.60" x2="483.60" y2="232.00" stroke="#000" stroke-width="1.3"/>
<line x1="481.70" y1="232.60" x2="485.50" y2="232.60" stroke="#000" stroke-width="1.4"/>
<rect x="481.22" y="242.22" width="4.75" height="129.78" fill="#fff"/>
<path d="M481.22 243.78L482.77 242.22M481.22 246.28L485.27 242.22M481.22 248.78L485.97 244.03M481.22 251.28L485.97 246.53M481.22 253.78L485.97 249.03M481.22 256.28L485.97 251.53M481.22 258.78L485.97 254.03M481.22 261.28L485.97 256.53M481.22 263.78L485.97 259.03M481.22 266.28L485.97 261.53M481.22 268.78L485.97 264.03M481.22 271.28L485.97 266.53M481.22 273.78L485.97 269.03M481.22 276.28L485.97 271.53M481.22 278.78L485.97 274.03M481.22 281.28L485.97 276.53M481.22 283.78L485.97 279.03M481.22 286.28L485.97 281.53M481.22 288.78L485.97 284.03M481.22 291.28L485.97 286.53M481.22 293.78L485.97 289.03M481.22 296.28L485.97 291.53M481.22 298.78L485.97 294.03M481.22 301.28L485.97 296.53M481.22 303.78L485.97 299.03M481.22 306.28L485.97 301.53M481.22 308.78L485.97 304.03M481.22 311.28L485.97 306.53M481.22 313.78L485.97 309.03M481.22 316.28L485.97 311.53M481.22 318.78L485.97 314.03M481.22 321.28L485.97 316.53M481.22 323.78L485.97 319.03M481.22 326.28L485.97 321.53M481.22 328.78L485.97 324.03M481.22 331.28L485.97 326.53M481.22 333.78L485.97 329.03M481.22 336.28L485.97 331.53M481.22 338.78L485.97 334.03M481.22 341.28L485.97 336.53M481.22 343.78L485.97 339.03M481.22 346.28L485.97 341.53M481.22 348.78L485.97 344.03M481.22 351.28L485.97 346.53M481.22 353.78L485.97 349.03M481.22 356.28L485.97 351.53M481.22 358.78L485.97 354.03M481.22 361.28L485.97 356.53M481.22 363.78L485.97 359.03M481.22 366.28L485.97 361.53M481.22 368.78L485.97 364.03M481.22 371.28L485.97 366.53M483.00 372.00L485.97 369.03M485.50 372.00L485.97 371.53" stroke="#000" stroke-width="0.9" fill="none" filter="url(#bl)"/>
<rect x="481.22" y="242.22" width="4.75" height="129.78" fill="none" stroke="#000" stroke-width="1.25"/>
<rect x="491.65" y="370.25" width="6.60" height="1.75" fill="#000"/>
<line x1="502.65" y1="303.80" x2="502.65" y2="266.90" stroke="#000" stroke-width="1.3"/>
<line x1="500.75" y1="267.50" x2="504.55" y2="267.50" stroke="#000" stroke-width="1.4"/>
<rect x="500.27" y="304.43" width="4.75" height="67.57" fill="#fff"/>
<rect x="500.27" y="304.43" width="4.75" height="67.57" fill="none" stroke="#000" stroke-width="1.25"/>
<line x1="509.55" y1="273.10" x2="509.55" y2="258.00" stroke="#000" stroke-width="1.3"/>
<line x1="507.65" y1="258.60" x2="511.45" y2="258.60" stroke="#000" stroke-width="1.4"/>
<rect x="507.17" y="273.73" width="4.75" height="98.27" fill="#fff"/>
<path d="M507.17 275.33L508.77 273.73M507.17 277.83L511.27 273.73M507.17 280.33L511.92 275.58M507.17 282.83L511.92 278.08M507.17 285.33L511.92 280.58M507.17 287.83L511.92 283.08M507.17 290.33L511.92 285.58M507.17 292.83L511.92 288.08M507.17 295.33L511.92 290.58M507.17 297.83L511.92 293.08M507.17 300.33L511.92 295.58M507.17 302.83L511.92 298.08M507.17 305.33L511.92 300.58M507.17 307.83L511.92 303.08M507.17 310.33L511.92 305.58M507.17 312.83L511.92 308.08M507.17 315.33L511.92 310.58M507.17 317.83L511.92 313.08M507.17 320.33L511.92 315.58M507.17 322.83L511.92 318.08M507.17 325.33L511.92 320.58M507.17 327.83L511.92 323.08M507.17 330.33L511.92 325.58M507.17 332.83L511.92 328.08M507.17 335.33L511.92 330.58M507.17 337.83L511.92 333.08M507.17 340.33L511.92 335.58M507.17 342.83L511.92 338.08M507.17 345.33L511.92 340.58M507.17 347.83L511.92 343.08M507.17 350.33L511.92 345.58M507.17 352.83L511.92 348.08M507.17 355.33L511.92 350.58M507.17 357.83L511.92 353.08M507.17 360.33L511.92 355.58M507.17 362.83L511.92 358.08M507.17 365.33L511.92 360.58M507.17 367.83L511.92 363.08M507.17 370.33L511.92 365.58M508.00 372.00L511.92 368.08M510.50 372.00L511.92 370.58" stroke="#000" stroke-width="0.9" fill="none" filter="url(#bl)"/>
<rect x="507.17" y="273.73" width="4.75" height="98.27" fill="none" stroke="#000" stroke-width="1.25"/>
<rect x="311.5" y="253.7" width="208" height="10.6" fill="#fff"/>
<line x1="507.65" y1="252.40" x2="511.45" y2="252.40" stroke="#000" stroke-width="1.2"/>
<line x1="308.10" y1="230.00" x2="308.10" y2="253.70" stroke="#000" stroke-width="1.7"/>
<line x1="308.10" y1="264.40" x2="308.10" y2="372.75" stroke="#000" stroke-width="1.7"/>
<line x1="307.35" y1="372.00" x2="516.00" y2="372.00" stroke="#000" stroke-width="1.7"/>
<line x1="303.40" y1="230.50" x2="308.10" y2="230.50" stroke="#000" stroke-width="1.5"/>
<text transform="translate(302.70,234.20) scale(0.92,1)" font-size="10.3" text-anchor="end" font-weight="bold" stroke-width="0.2">1000</text>
<line x1="303.40" y1="253.00" x2="311.10" y2="253.00" stroke="#000" stroke-width="1.5"/>
<text transform="translate(302.70,256.70) scale(0.92,1)" font-size="10.3" text-anchor="end" font-weight="bold" stroke-width="0.2">100</text>
<line x1="303.40" y1="265.10" x2="311.10" y2="265.10" stroke="#000" stroke-width="1.5"/>
<text transform="translate(302.70,268.80) scale(0.92,1)" font-size="10.3" text-anchor="end" font-weight="bold" stroke-width="0.2">100</text>
<line x1="303.40" y1="286.48" x2="308.10" y2="286.48" stroke="#000" stroke-width="1.5"/>
<text transform="translate(302.70,290.18) scale(0.92,1)" font-size="10.3" text-anchor="end" font-weight="bold" stroke-width="0.2">80</text>
<line x1="303.40" y1="307.86" x2="308.10" y2="307.86" stroke="#000" stroke-width="1.5"/>
<text transform="translate(302.70,311.56) scale(0.92,1)" font-size="10.3" text-anchor="end" font-weight="bold" stroke-width="0.2">60</text>
<line x1="303.40" y1="329.24" x2="308.10" y2="329.24" stroke="#000" stroke-width="1.5"/>
<text transform="translate(302.70,332.94) scale(0.92,1)" font-size="10.3" text-anchor="end" font-weight="bold" stroke-width="0.2">40</text>
<line x1="303.40" y1="350.62" x2="308.10" y2="350.62" stroke="#000" stroke-width="1.5"/>
<text transform="translate(302.70,354.32) scale(0.92,1)" font-size="10.3" text-anchor="end" font-weight="bold" stroke-width="0.2">20</text>
<line x1="303.40" y1="372.00" x2="308.10" y2="372.00" stroke="#000" stroke-width="1.5"/>
<text transform="translate(302.70,375.70) scale(0.92,1)" font-size="10.3" text-anchor="end" font-weight="bold" stroke-width="0.2">0</text>
<line x1="320.90" y1="372.00" x2="320.90" y2="376.70" stroke="#000" stroke-width="1.5"/>
<text transform="translate(322.90,386.50) rotate(-45)" font-size="10" text-anchor="end" font-weight="bold" letter-spacing="0.25" stroke-width="0.2">P2Y1</text>
<line x1="346.85" y1="372.00" x2="346.85" y2="376.70" stroke="#000" stroke-width="1.5"/>
<text transform="translate(348.85,386.50) rotate(-45)" font-size="10" text-anchor="end" font-weight="bold" letter-spacing="0.25" stroke-width="0.2">P2Y2</text>
<line x1="372.80" y1="372.00" x2="372.80" y2="376.70" stroke="#000" stroke-width="1.5"/>
<text transform="translate(374.80,386.50) rotate(-45)" font-size="10" text-anchor="end" font-weight="bold" letter-spacing="0.25" stroke-width="0.2">P2Y4</text>
<line x1="398.75" y1="372.00" x2="398.75" y2="376.70" stroke="#000" stroke-width="1.5"/>
<text transform="translate(400.75,386.50) rotate(-45)" font-size="10" text-anchor="end" font-weight="bold" letter-spacing="0.25" stroke-width="0.2">P2Y6</text>
<line x1="424.70" y1="372.00" x2="424.70" y2="376.70" stroke="#000" stroke-width="1.5"/>
<text transform="translate(426.70,386.50) rotate(-45)" font-size="10" text-anchor="end" font-weight="bold" letter-spacing="0.25" stroke-width="0.2">P2Y11</text>
<line x1="450.65" y1="372.00" x2="450.65" y2="376.70" stroke="#000" stroke-width="1.5"/>
<text transform="translate(452.65,386.50) rotate(-45)" font-size="10" text-anchor="end" font-weight="bold" letter-spacing="0.25" stroke-width="0.2">P2Y12</text>
<line x1="476.60" y1="372.00" x2="476.60" y2="376.70" stroke="#000" stroke-width="1.5"/>
<text transform="translate(478.60,386.50) rotate(-45)" font-size="10" text-anchor="end" font-weight="bold" letter-spacing="0.25" stroke-width="0.2">P2Y13</text>
<line x1="502.55" y1="372.00" x2="502.55" y2="376.70" stroke="#000" stroke-width="1.5"/>
<text transform="translate(504.55,386.50) rotate(-45)" font-size="10" text-anchor="end" font-weight="bold" letter-spacing="0.25" stroke-width="0.2">P2Y14</text>
<rect x="202" y="196.3" width="16" height="8.2" fill="#000"/>
<text x="226.00" y="205.00" font-size="11.4" text-anchor="start" font-weight="bold" >Universal RNA</text>
<path d="M314.70 198.20L316.40 196.50M314.70 200.50L318.70 196.50M314.70 202.80L321.00 196.50M315.50 204.30L323.30 196.50M317.80 204.30L325.60 196.50M320.10 204.30L327.90 196.50M322.40 204.30L329.90 196.80M324.70 204.30L329.90 199.10M327.00 204.30L329.90 201.40M329.30 204.30L329.90 203.70" stroke="#000" stroke-width="0.8" fill="none" filter="url(#bl)"/>
<text x="338.00" y="205.00" font-size="11.4" text-anchor="start" font-weight="bold" >OCI-AML3</text>
<rect x="402.9" y="196.70000000000002" width="14.8" height="7.3999999999999995" fill="#fff" stroke="#555" stroke-width="0.8"/>
<text x="426.20" y="205.00" font-size="11.4" text-anchor="start" font-weight="bold" >U937</text>
<rect x="202" y="426.3" width="15.5" height="8.2" fill="#000"/>
<text x="225.50" y="434.60" font-size="11.4" text-anchor="start" font-weight="bold" >Universal RNA</text>
<rect x="314.9" y="426.7" width="14.8" height="7.3999999999999995" fill="#fff" stroke="#555" stroke-width="0.8"/>
<text x="338.0" y="434.6" font-size="11.5" font-weight="bold">normal <tspan dx="1.2">CD34</tspan><tspan font-size="7" dy="-5">+</tspan><tspan dy="5" dx="-0.3"> cells</tspan></text>
<path d="M452.20 428.70L454.40 426.50M452.20 431.00L456.70 426.50M452.20 433.30L459.00 426.50M453.50 434.30L461.30 426.50M455.80 434.30L463.60 426.50M458.10 434.30L465.90 426.50M460.40 434.30L467.40 427.30M462.70 434.30L467.40 429.60M465.00 434.30L467.40 431.90M467.30 434.30L467.40 434.20" stroke="#000" stroke-width="0.8" fill="none" filter="url(#bl)"/>
<text x="475.00" y="434.60" font-size="11.4" text-anchor="start" font-weight="bold" >AML</text>
</svg>
</body></html>
